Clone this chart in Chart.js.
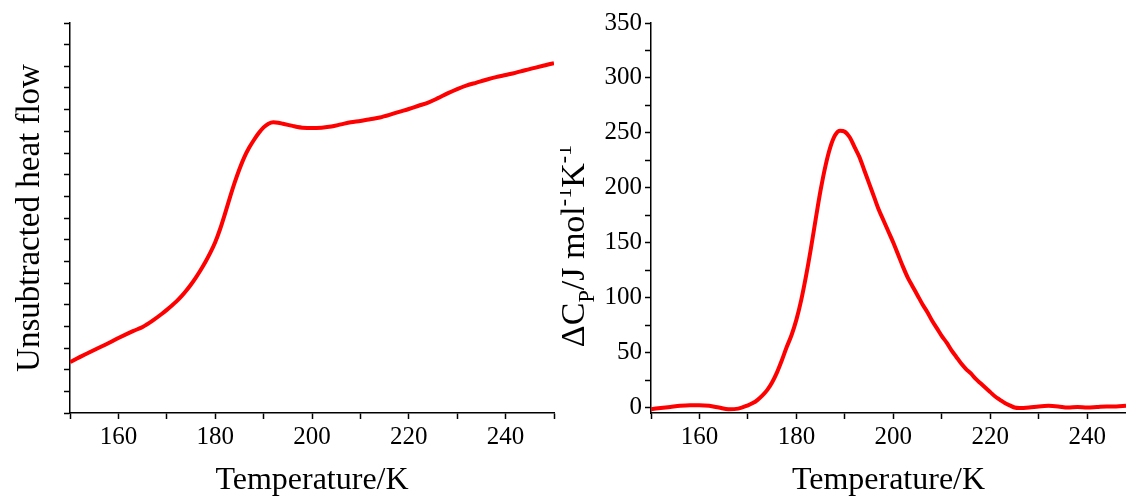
<!DOCTYPE html>
<html>
<head>
<meta charset="utf-8">
<script src="https://cdn.jsdelivr.net/npm/chart.js"></script>
<style>
  html, body { margin: 0; padding: 0; background: #fff; }
  #wrap { position: relative; width: 1126px; height: 497px; }
  .box { position: absolute; top: 0; height: 497px; }
  #left { left: 0; width: 560px; }
  #right { left: 560px; width: 566px; }
</style>
</head>
<body>
<div id="wrap">
  <div class="box" id="left"><canvas id="heatChart"></canvas></div>
  <div class="box" id="right"><canvas id="cpChart"></canvas></div>
</div>
<script>
// Left panel: unsubtracted heat flow (arbitrary units, 0..18)
const tempLeft = [150, 152, 155, 158, 160, 163, 165, 167, 169, 170, 171, 172, 173, 174, 175, 176, 177, 178, 179,
  180, 181, 182, 183, 184, 185, 186, 187, 188, 189, 190, 191, 192, 193, 194, 195, 196, 197, 198,
  200, 202, 204, 206, 208, 210, 212, 214, 216, 218, 220, 222, 224, 226, 228, 230, 232, 234, 236,
  238, 240, 242, 244, 246, 248, 250];
const heatFlow = [2.35, 2.58, 2.91, 3.23, 3.46, 3.78, 3.97, 4.25, 4.58, 4.76, 4.95, 5.15, 5.38, 5.64, 5.93, 6.25, 6.6, 6.98, 7.4,
  7.88, 8.48, 9.18, 9.92, 10.62, 11.25, 11.8, 12.24, 12.6, 12.92, 13.18, 13.35, 13.42, 13.4, 13.35, 13.3, 13.25, 13.2, 13.17,
  13.15, 13.17, 13.22, 13.32, 13.42, 13.48, 13.56, 13.64, 13.76, 13.9, 14.03, 14.18, 14.33, 14.53, 14.75, 14.95, 15.12, 15.25, 15.38,
  15.5, 15.6, 15.7, 15.82, 15.93, 16.04, 16.15];

// Right panel: excess heat capacity
const tempRight = [150, 152, 154, 156, 158, 160, 162, 164, 166, 168, 170, 171, 172, 173, 174, 175, 176, 177, 178, 179,
  180, 181, 182, 183, 184, 185, 186, 187, 188, 189, 190, 191, 192, 193, 194, 195, 196, 197, 198, 199,
  200, 201, 202, 203, 204, 205, 206, 207, 208, 209, 210, 211, 212, 213, 214, 215, 216, 217, 218, 219,
  220, 221, 222, 223, 224, 225, 226, 228, 230, 232, 234, 236, 238, 240, 242, 244, 246, 248];
const deltaCp = [-1.5, -0.5, 0.5, 1.5, 2, 2, 1.5, 0, -1.5, -1, 2, 4, 7, 11, 16, 23, 32, 43, 55, 66,
  80, 98, 120, 145, 172, 198, 220, 237, 248, 252, 251, 246, 237, 228, 216, 204, 192, 180, 170, 160,
  150, 139, 128, 118, 110, 102, 94, 87, 79, 72, 65, 59, 52, 46, 40, 35, 31, 26, 22, 18,
  14, 10, 7, 4, 2, 0, -0.5, 0, 1, 1.5, 1, 0, 0.5, 0, 0.5, 1, 1, 1.5];

const FONT = "'Liberation Serif', 'Times New Roman', serif";
const RED = '#ff0000';

function axisStyle(extra) {
  return Object.assign({
    type: 'linear',
    grid: { display: true, drawOnChartArea: false, drawTicks: true, tickLength: 6, tickColor: '#000', tickWidth: 1.5 },
    border: { display: true, color: '#000', width: 1.5 },
    ticks: { color: '#000', font: { family: FONT, size: 25 }, padding: 3, autoSkip: false, maxRotation: 0, includeBounds: false }
  }, extra);
}

const xTitle = { display: true, text: 'Temperature/K', color: '#000', font: { family: FONT, size: 32, lineHeight: 1 }, padding: { top: 0, bottom: 0 } };

// Left chart
new Chart(document.getElementById('heatChart').getContext('2d'), {
  type: 'line',
  data: {
    datasets: [{
      data: tempLeft.map((t, i) => ({ x: t, y: heatFlow[i] })),
      borderColor: RED,
      borderWidth: 4,
      pointRadius: 0,
      cubicInterpolationMode: 'monotone',
      fill: false
    }]
  },
  options: {
    responsive: true,
    maintainAspectRatio: false,
    animation: false,
    layout: { padding: { top: 23, right: 6, left: 0, bottom: 0 } },
    plugins: { legend: { display: false }, tooltip: { enabled: false } },
    scales: {
      x: axisStyle({
        min: 150, max: 250,
        ticks: Object.assign({}, axisStyle().ticks, { stepSize: 10, callback: v => (v % 20 === 0 ? v : '') }),
        title: xTitle,
        afterFit: s => { s.height = 84; }
      }),
      y: axisStyle({
        min: 0, max: 18,
        ticks: Object.assign({}, axisStyle().ticks, { stepSize: 1, callback: () => '' }),
        title: { display: true, text: 'Unsubtracted heat flow', color: '#000', font: { family: FONT, size: 33, lineHeight: 1 }, padding: { top: 14, bottom: 0 } },
        afterFit: s => { s.width = 70; }
      })
    }
  }
});

// y-axis title with sub/superscripts for the right chart
const cpTitle = {
  id: 'cpTitle',
  afterDraw(chart) {
    const ctx = chart.ctx;
    const area = chart.chartArea;
    const size = 34;
    const parts = [['ΔC', 0, 1], ['P', 0.28, 0.65], ['/J mol', 0, 1], ['-1', -0.38, 0.65], ['K', 0, 1], ['-1', -0.38, 0.65]];
    ctx.save();
    ctx.translate(24, (area.top + area.bottom) / 2 + 28);
    ctx.rotate(-Math.PI / 2);
    ctx.fillStyle = '#000';
    ctx.textBaseline = 'alphabetic';
    ctx.textAlign = 'left';
    let total = 0;
    parts.forEach(p => { ctx.font = (size * p[2]) + 'px ' + FONT; total += ctx.measureText(p[0]).width; });
    let pos = -total / 2;
    parts.forEach(p => {
      ctx.font = (size * p[2]) + 'px ' + FONT;
      ctx.fillText(p[0], pos, p[1] * size);
      pos += ctx.measureText(p[0]).width;
    });
    ctx.restore();
  }
};

// Right chart
new Chart(document.getElementById('cpChart').getContext('2d'), {
  type: 'line',
  data: {
    datasets: [{
      data: tempRight.map((t, i) => ({ x: t, y: deltaCp[i] })),
      borderColor: RED,
      borderWidth: 4,
      pointRadius: 0,
      cubicInterpolationMode: 'monotone',
      fill: false
    }]
  },
  options: {
    responsive: true,
    maintainAspectRatio: false,
    animation: false,
    layout: { padding: { top: 23, right: 0, left: 0, bottom: 0 } },
    plugins: { legend: { display: false }, tooltip: { enabled: false } },
    scales: {
      x: axisStyle({
        min: 150, max: 248,
        ticks: Object.assign({}, axisStyle().ticks, { stepSize: 10, callback: v => (v % 20 === 0 ? v : '') }),
        title: xTitle,
        afterFit: s => { s.height = 84; }
      }),
      y: axisStyle({
        min: -5, max: 350,
        ticks: Object.assign({}, axisStyle().ticks, { stepSize: 25, callback: v => (v % 50 === 0 ? v : '') }),
        afterFit: s => { s.width = 91; }
      })
    }
  },
  plugins: [cpTitle]
});
</script>
</body>
</html>
